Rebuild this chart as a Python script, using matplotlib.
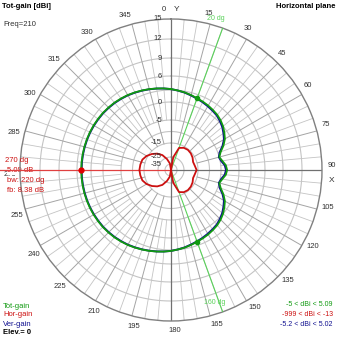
import numpy as np
import matplotlib.pyplot as plt
from matplotlib.transforms import offset_copy

# Pattern data, azimuth in degrees (clockwise from Y), gain in dBi
AZIMUTH = np.arange(0, 361, 5)

TOT_GAIN = [3.2, 2.95, 2.7, 2.4, 2.09, 1.85, 1.6, 1.3, 1.0, 0.55,
            0.0, -0.8, -1.6, -2.8, -4.2, -5.0, -4.4, -3.6, -3.29, -3.6,
            -4.4, -5.0, -4.2, -2.8, -1.6, -0.8, 0.0, 0.55, 1.0, 1.3,
            1.6, 1.85, 2.09, 2.4, 2.7, 2.95, 3.2, 3.4, 3.6, 3.8,
            4.0, 4.2, 4.4, 4.55, 4.7, 4.8, 4.9, 4.95, 5.0, 5.03,
            5.05, 5.07, 5.08, 5.09, 5.09, 5.09, 5.08, 5.07, 5.05, 5.03,
            5.0, 4.95, 4.9, 4.8, 4.7, 4.55, 4.4, 4.2, 4.0, 3.8,
            3.6, 3.4, 3.2]

VER_GAIN = [3.2, 2.93, 2.65, 2.3, 2.0, 1.7, 1.4, 1.1, 0.8, 0.3,
            -0.3, -1.1, -1.9, -3.1, -4.5, -5.2, -4.7, -3.9, -3.6, -3.9,
            -4.7, -5.2, -4.5, -3.1, -1.9, -1.1, -0.3, 0.3, 0.8, 1.1,
            1.4, 1.7, 2.0, 2.3, 2.65, 2.93, 3.2, 3.39, 3.58, 3.77,
            3.96, 4.15, 4.34, 4.48, 4.62, 4.72, 4.82, 4.87, 4.92, 4.96,
            4.98, 5.0, 5.01, 5.02, 5.02, 5.02, 5.01, 5.0, 4.98, 4.96,
            4.92, 4.87, 4.82, 4.72, 4.62, 4.48, 4.34, 4.15, 3.96, 3.77,
            3.58, 3.39, 3.2]

HOR_AZIMUTH = np.arange(0, 361, 10)
HOR_GAIN = [-999, -25, -17.5, -16, -15.5, -15.8, -16.5, -17.5, -17, -16,
            -17, -17.5, -16.5, -15.8, -15.5, -16, -17.5, -25, -999, -34,
            -27, -22, -19, -16.5, -14.5, -13.5, -13.2, -13, -13.2, -13.5,
            -14.5, -16.5, -19, -22, -27, -34, -999]

# Logarithmic radial scale (dB -> plot radius); last point runs past the rim
SCALE_DB = [-60, -35, -25, -15, -5, 0, 3, 6, 9, 12, 15, 18]
SCALE_R = [0, 6, 13, 27, 50, 68, 80, 94, 112, 131, 151, 172]

CIRCLES = [12, 9, 6, 3, 0, -5, -10, -15, -25, -35]
CIRCLE_LABELS = [15, 12, 9, 6, 0, -5, -15, -25, -35]
ANGLE_LABELS = list(range(0, 360, 15))

MAX_AZ = 270
MAX_GAIN = 5.09
BW_AZ = [20, 160]
BW_GAIN = 2.09

GREEN = "#109a10"
LIGHT_GREEN = "#5ad25a"
RED = "#cc1010"
BLUE = "#101090"
GRID = "#c4c4c4"
GRID_MAJOR = "#a4a4a4"
AXIS = "#707070"
TEXT = "#303030"


def db_to_r(v):
    return np.interp(v, SCALE_DB, SCALE_R)


def r_to_db(v):
    return np.interp(v, SCALE_R, SCALE_DB)


plt.rcParams["font.family"] = ["Liberation Sans", "DejaVu Sans"]

W = 339
fig = plt.figure(figsize=(W / 100, W / 100), dpi=100)
cx, cy, rad = 171 / W, 1 - 170 / W, 151 / W
ax = fig.add_axes([cx - rad, cy - rad, 2 * rad, 2 * rad], projection="polar")
ax.set_theta_zero_location("N")
ax.set_theta_direction(-1)
ax.set_rscale("function", functions=(db_to_r, r_to_db))
ax.set_ylim(-60, 15)
ax.grid(False)
ax.set_xticks([])
ax.set_yticks([])
ax.spines["polar"].set_color("#808080")
ax.spines["polar"].set_linewidth(1.0)

full = np.linspace(0, 2 * np.pi, 361)

# grid circles
for level in CIRCLES:
    ax.plot(full, np.full_like(full, level), color=GRID, lw=0.8, zorder=1)

# radial spokes
for az in range(0, 360, 5):
    th = np.radians(az)
    if az % 90 == 0:
        continue
    if az % 15 == 0:
        ax.plot([th, th], [-15, 15], color=GRID_MAJOR, lw=0.7, zorder=1)
    else:
        ax.plot([th, th], [-5, 15], color=GRID, lw=0.6, zorder=1)

# main axes through the centre
for az in (0, 90, 180):
    ax.plot([np.radians(az), np.radians(az)], [-60, 15], color=AXIS, lw=0.9, zorder=2)

# maximum direction marker, running out to the figure edge
th_max = np.radians(MAX_AZ)
ax.plot([th_max, th_max], [-60, 18], color="#e04040", lw=0.9, zorder=3,
        clip_on=False)

# beamwidth lines
for az in BW_AZ:
    ax.plot([np.radians(az)] * 2, [-60, 15], color=LIGHT_GREEN, lw=0.8, zorder=3)

ax.plot(np.radians(AZIMUTH), VER_GAIN, color=BLUE, lw=1.4, zorder=4)
ax.plot(np.radians(AZIMUTH), TOT_GAIN, color=GREEN, lw=1.3, zorder=5)
ax.plot(np.radians(HOR_AZIMUTH), HOR_GAIN, color=RED, lw=1.3, zorder=5)

ax.plot([th_max], [MAX_GAIN], "o", color="#e00000", ms=3.5, zorder=6)
ax.plot(np.radians(BW_AZ), [BW_GAIN] * 2, "o", color=GREEN, ms=3, zorder=6)

# radial labels along the Y axis
lab_tr = offset_copy(ax.transData, fig=fig, x=-9, y=0, units="dots")
for level in CIRCLE_LABELS:
    ax.text(0, level, str(level), transform=lab_tr, ha="right", va="center",
            fontsize=5.5, color=TEXT, zorder=7)

# azimuth labels around the rim
for az in ANGLE_LABELS:
    a = np.radians(az + (-2.5 if az == 0 else -1.5))
    fr = 0.5 * 161 / 151
    ax.text(0.5 + fr * np.sin(a), 0.5 + fr * np.cos(a), str(az),
            transform=ax.transAxes, ha="center", va="center",
            fontsize=5.5, color=TEXT, zorder=2)

ax.text(0.5 + 0.017, 1.03, "Y", transform=ax.transAxes, ha="center",
        va="center", fontsize=6, color=TEXT)
ax.text(1.032, 0.465, "X", transform=ax.transAxes, ha="center",
        va="center", fontsize=6, color=TEXT)

# beamwidth labels near the rim
for az, s, fr in ((16.6, "20 dg", 157.6), (161.7, "160 dg", 140)):
    a = np.radians(az)
    f = 0.5 * fr / 151
    ax.text(0.5 + f * np.sin(a), 0.5 + f * np.cos(a), s, transform=ax.transAxes,
            fontsize=5, color=LIGHT_GREEN, ha="center", va="center", zorder=3)

# gain readout at the maximum, drawn under the red marker line
ax.text(7 / W, 1 - 171 / W, "5.09 dB", transform=fig.transFigure, fontsize=5.5,
        color=RED, va="center", zorder=2.5, clip_on=False,
        bbox=dict(facecolor="white", edgecolor="none", pad=0.2))


def ftext(x, y, s, **kw):
    fig.text(x / W, 1 - y / W, s, **kw)


ftext(2, 6, "Tot-gain [dBi]", fontsize=5.5, fontweight="bold", color="black", va="center")
ftext(3, 24, "Freq=210", fontsize=5.5, color=TEXT, va="center")
ftext(336, 6, "Horizontal plane", fontsize=5.5, fontweight="bold", color="black",
      va="center", ha="right")

ftext(5, 160, "270 dg", fontsize=5.5, color=RED, va="center")
ftext(7, 181, "bw: 220 dg", fontsize=5.5, color=RED, va="center")
ftext(7, 191, "fb: 8.38 dB", fontsize=5.5, color=RED, va="center")

ftext(3, 306, "Tot-gain", fontsize=5.5, color=GREEN, va="center")
ftext(3, 315, "Hor-gain", fontsize=5.5, color=RED, va="center")
ftext(3, 324, "Ver-gain", fontsize=5.5, color=BLUE, va="center")
ftext(3, 333, "Elev.= 0", fontsize=5.5, color="black", fontweight="bold", va="center")

ftext(333, 305, "-5 < dBi < 5.09", fontsize=5, color=GREEN, va="center", ha="right")
ftext(333, 314, "-999 < dBi < -13", fontsize=5, color=RED, va="center", ha="right")
ftext(333, 324, "-5.2 < dBi < 5.02", fontsize=5, color=BLUE, va="center", ha="right")

fig.savefig("out.png", dpi=100, facecolor="white")
